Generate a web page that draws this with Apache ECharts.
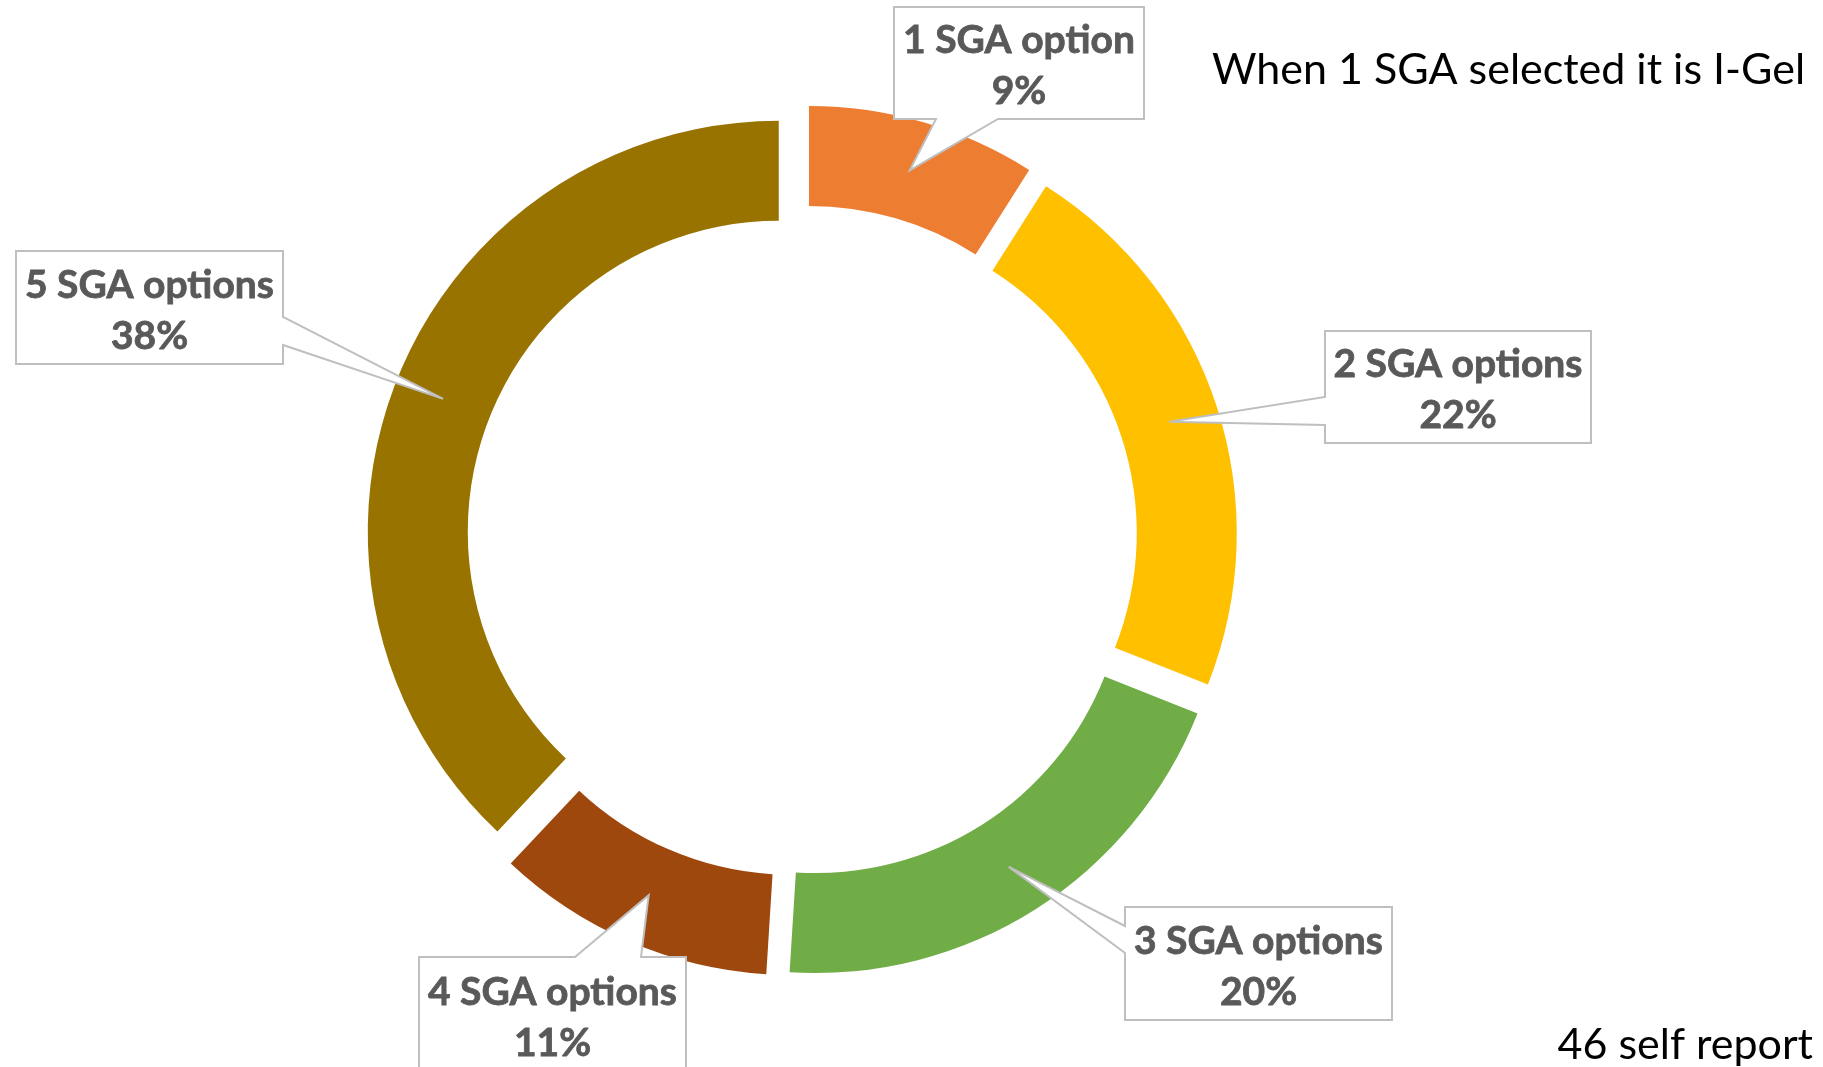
<!DOCTYPE html>
<html>
<head>
<meta charset="utf-8">
<script src="https://cdn.jsdelivr.net/npm/echarts@6/dist/echarts.min.js"></script>
<style>
  html, body { margin: 0; padding: 0; background: #fff; }
  #chart { width: 1823px; height: 1067px; }
</style>
</head>
<body>
<div id="chart"></div>
<script>
const categories = ['1 SGA option', '2 SGA options', '3 SGA options', '4 SGA options', '5 SGA options'];
const shares = [9, 22, 20, 11, 38];
const sliceColors = ['#ED7D31', '#FFC000', '#70AD47', '#9E480E', '#997300'];
const noteTop = 'When 1 SGA selected it is I-Gel';
const noteBottom = '46 self report';

// callout boxes [left, top, right, bottom], edge that carries the pointer and where its base sits on it
const callouts = [
  { box: [894, 7, 1144, 119], side: 'bottom', base: [936, 998] },
  { box: [1325, 331, 1591, 443], side: 'left', base: [397, 425] },
  { box: [1125, 907, 1392, 1020], side: 'left', base: [926, 953] },
  { box: [419, 957, 686, 1072], side: 'top', base: [575, 641] },
  { box: [16, 251, 283, 364], side: 'right', base: [317, 345] }
];

const explode = 25;
const labelFont = 'bold 39px Lato';
const noteFont = '43px Lato';

const chart = echarts.init(document.getElementById('chart'));

chart.setOption({
  animation: false,
  series: [{
    type: 'pie',
    center: [802, 541],
    radius: [311, 411],
    startAngle: 90,
    selectedMode: 'multiple',
    selectedOffset: explode,
    emphasis: { disabled: true },
    label: { show: false },
    labelLine: { show: false },
    data: categories.map((name, i) => ({
      name: name,
      value: shares[i],
      selected: true,
      itemStyle: { color: sliceColors[i] }
    }))
  }]
});

// pointer tips: middle of the ring on each slice's bisector, read back from the pie layout
const pieData = chart.getModel().getSeriesByIndex(0).getData();
const total = shares.reduce((a, b) => a + b, 0);

function calloutPoints(c, tip) {
  const [x1, y1, x2, y2] = c.box;
  const [b0, b1] = c.base;
  let pts = [[x1, y1]];
  if (c.side === 'top') pts.push([b0, y1], tip, [b1, y1]);
  pts.push([x2, y1]);
  if (c.side === 'right') pts.push([x2, b0], tip, [x2, b1]);
  pts.push([x2, y2]);
  if (c.side === 'bottom') pts.push([b1, y2], tip, [b0, y2]);
  pts.push([x1, y2]);
  if (c.side === 'left') pts.push([x1, b1], tip, [x1, b0]);
  return pts;
}

let graphics = [];
callouts.forEach((c, i) => {
  const lay = pieData.getItemLayout(i);
  const mid = (lay.startAngle + lay.endAngle) / 2;
  const rr = (lay.r0 + lay.r) / 2 + explode;
  const tip = [lay.cx + Math.cos(mid) * rr, lay.cy + Math.sin(mid) * rr];
  graphics.push({
    type: 'polygon',
    z: 10,
    shape: { points: calloutPoints(c, tip) },
    style: { fill: '#fff', stroke: '#BFBFBF', lineWidth: 2 }
  });
  graphics.push({
    type: 'text',
    z: 11,
    x: (c.box[0] + c.box[2]) / 2,
    y: (c.box[1] + c.box[3]) / 2 + 3,
    style: {
      text: categories[i] + '\n' + Math.round(shares[i] / total * 100) + '%',
      font: labelFont,
      fill: '#595959',
      stroke: '#595959',
      lineWidth: 0.8,
      align: 'center',
      verticalAlign: 'middle',
      lineHeight: 51
    }
  });
});

graphics.push({
  type: 'text', z: 11, x: 1212, y: 70,
  style: { text: noteTop, font: noteFont, fill: '#000', align: 'left', verticalAlign: 'middle' }
});
graphics.push({
  type: 'text', z: 11, x: 1813, y: 1045,
  style: { text: noteBottom, font: noteFont, fill: '#000', align: 'right', verticalAlign: 'middle' }
});

chart.setOption({ graphic: graphics });
</script>
</body>
</html>
